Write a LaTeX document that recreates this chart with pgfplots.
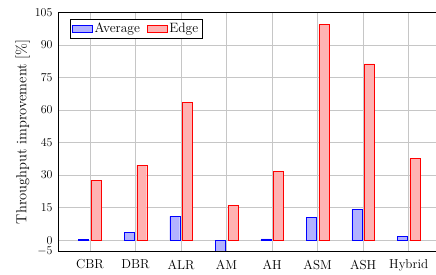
\documentclass[border=0pt]{standalone}
\usepackage{pgfplots}
\pgfplotsset{compat=1.18}
\begin{document}
\begin{tikzpicture}
\begin{axis}[
  scale only axis,
  width=377.65pt, height=238.3pt,
  ybar=2.5pt, bar width=10pt,
  xmin=-0.7, xmax=7.6,
  ymin=-5, ymax=105,
  xtick={0,1,2,3,4,5,6,7},
  xticklabels={CBR,DBR,ALR,AM,AH,ASM,ASH,Hybrid},
  ytick={-5,0,15,30,45,60,75,90,105},
  grid=major,
  major grid style={gray!45, line width=0.5pt},
  axis line style={draw=none},
  tick style={draw=none},
  tick label style={font=\fontsize{13}{15}\selectfont},
  xticklabel style={yshift=-1pt},
  yticklabel style={xshift=-2pt},
  ylabel={Throughput improvement [\%]},
  ylabel style={font=\fontsize{14.5}{17}\selectfont, yshift=-2pt},
  legend columns=2,
  legend style={at={(0.0318,0.973)}, anchor=north west, draw=black, font=\fontsize{13.5}{15}\selectfont,
    inner sep=2pt,
    /tikz/every even column/.append style={column sep=5pt}},
  legend image code/.code={\draw[#1] (0pt,-3.5pt) rectangle (20pt,3.5pt);},
  clip=false,
]
\addplot[draw=blue, fill=blue!30] coordinates {(0,0.5) (1,3.6) (2,11) (3,-4.9) (4,0.6) (5,10.5) (6,14.3) (7,1.7)};
\addplot[draw=red, fill=red!30] coordinates {(0,27.6) (1,34.5) (2,63.5) (3,16.0) (4,31.6) (5,99.4) (6,81.3) (7,37.6)};
\legend{Average, Edge}
\draw[black, line width=0.8pt] (rel axis cs:1.02,1) -- (rel axis cs:0,1) -- (rel axis cs:0,0) -- (rel axis cs:1.02,0);
\end{axis}
\pgfresetboundingbox
\path[use as bounding box] ([xshift=-58pt,yshift=-23pt]current axis.south west) rectangle ([yshift=12.5pt]current axis.north east);
\end{tikzpicture}
\end{document}
